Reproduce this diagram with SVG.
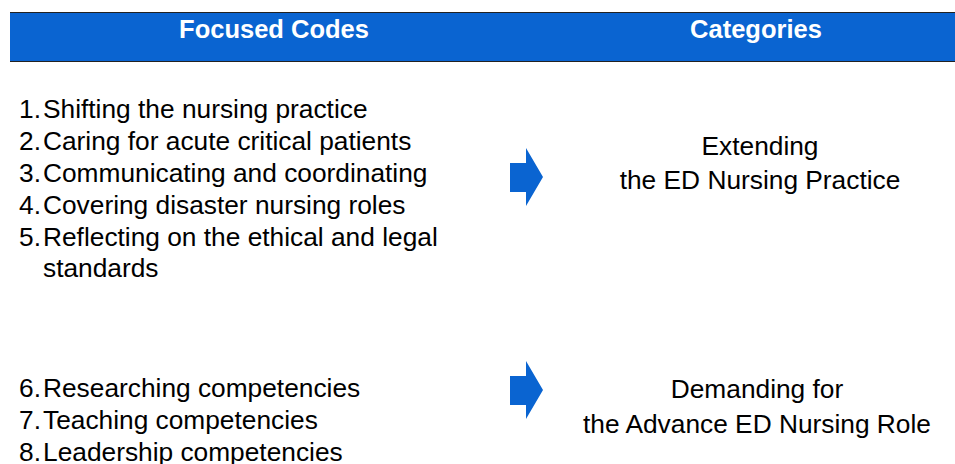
<svg xmlns="http://www.w3.org/2000/svg" width="955" height="464" viewBox="0 0 955 464">
<style>
.hdr{font-family:"Liberation Sans",Arial,sans-serif;font-size:25.5px;font-weight:bold;fill:#fff;text-anchor:middle}
.t{font-family:"Liberation Sans",Arial,sans-serif;font-size:26.3px;fill:#000}
.c{font-family:"Liberation Sans",Arial,sans-serif;font-size:26.3px;fill:#000;text-anchor:middle}
.arr{fill:#0a64d1}
</style>
<rect width="955" height="464" fill="#fff"/>
<g id="header">
<rect x="10" y="12" width="946" height="50" fill="#0a64d1"/>
<line x1="10" y1="12.5" x2="955" y2="12.5" stroke="#222" stroke-width="1"/>
<line x1="10" y1="61.5" x2="955" y2="61.5" stroke="#222" stroke-width="1"/>
<text class="hdr" x="274" y="38">Focused Codes</text>
<text class="hdr" x="756" y="38">Categories</text>
</g>
<g id="codes1">
<text class="t" y="118"><tspan x="19">1.</tspan><tspan x="43">Shifting the nursing practice</tspan></text>
<text class="t" y="150"><tspan x="19">2.</tspan><tspan x="43">Caring for acute critical patients</tspan></text>
<text class="t" y="182"><tspan x="19">3.</tspan><tspan x="43">Communicating and coordinating</tspan></text>
<text class="t" y="214"><tspan x="19">4.</tspan><tspan x="43">Covering disaster nursing roles</tspan></text>
<text class="t" y="246"><tspan x="19">5.</tspan><tspan x="43">Reflecting on the ethical and legal</tspan></text>
<text class="t" x="43" y="277">standards</text>
</g>
<g id="codes2">
<text class="t" y="397"><tspan x="19">6.</tspan><tspan x="43">Researching competencies</tspan></text>
<text class="t" y="429"><tspan x="19">7.</tspan><tspan x="43">Teaching competencies</tspan></text>
<text class="t" y="461"><tspan x="19">8.</tspan><tspan x="43">Leadership competencies</tspan></text>
</g>
<g id="connectors">
<polygon class="arr" points="510,163 526,163 526,148 543,177 526,206 526,192 510,192"/>
<polygon class="arr" points="510,376 526,376 526,361 543,390 526,419 526,405 510,405"/>
</g>
<g id="category1">
<text class="c" x="760" y="155">Extending</text>
<text class="c" x="760" y="189">the ED Nursing Practice</text>
</g>
<g id="category2">
<text class="c" x="757" y="398">Demanding for</text>
<text class="c" x="757" y="433">the Advance ED Nursing Role</text>
</g>
</svg>
